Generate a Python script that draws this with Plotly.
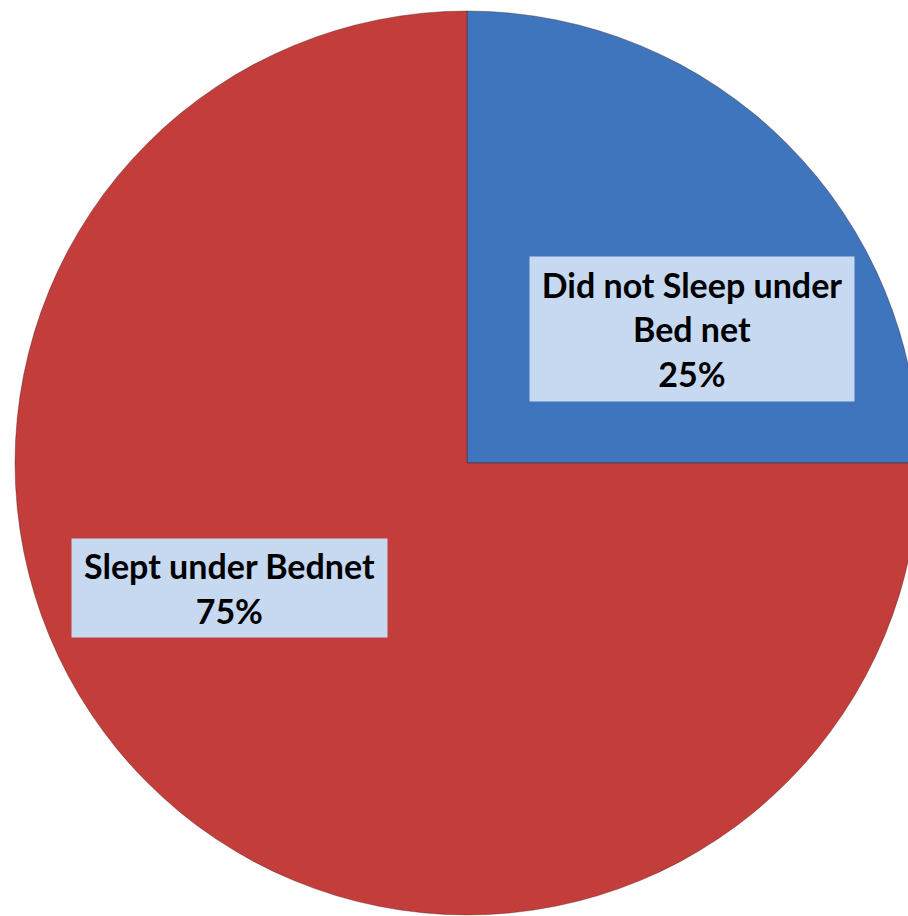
import plotly.graph_objects as go

labels = ["Did not Sleep under Bed net", "Slept under Bednet"]
values = [25, 75]
colors = ["#3e75bd", "#c33d3a"]
label_text = ["Did not Sleep under<br>Bed net<br>25%", "Slept under Bednet<br>75%"]

W, H = 930, 916
cx, cy, r = 467, 463, 452  # pixel geometry of the pie

fig = go.Figure()
fig.add_trace(go.Pie(
    labels=labels,
    values=values,
    sort=False,
    direction="clockwise",
    rotation=0,
    marker=dict(colors=colors, line=dict(color="rgba(60,20,20,0.35)", width=1)),
    textinfo="none",
    hoverinfo="label+percent",
    showlegend=False,
    domain=dict(x=[(cx - r) / W, (cx + r) / W], y=[(H - cy - r) / H, (H - cy + r) / H]),
))

# label boxes (pixel centres / sizes)
boxes = [
    dict(x=692, y=329, w=324, h=144),
    dict(x=229.5, y=588, w=315, h=98),
]
for txt, b in zip(label_text, boxes):
    fig.add_annotation(
        x=b["x"] / W, y=1 - b["y"] / H, xref="paper", yref="paper",
        xanchor="center", yanchor="middle",
        text="<b>" + txt + "</b>", showarrow=False,
        width=b["w"], height=b["h"], align="center", valign="middle",
        bgcolor="#c6d9f1", borderpad=0,
        font=dict(family="Lato", size=34, color="black"),
    )

fig.update_layout(
    width=W, height=H,
    margin=dict(l=0, r=0, t=0, b=0),
    paper_bgcolor="white", plot_bgcolor="white",
)

fig.write_html(
    "out.html",
    config={"displayModeBar": False},
    post_script="document.body.style.margin='0';document.body.style.overflow='hidden';document.documentElement.style.overflow='hidden';",
)
